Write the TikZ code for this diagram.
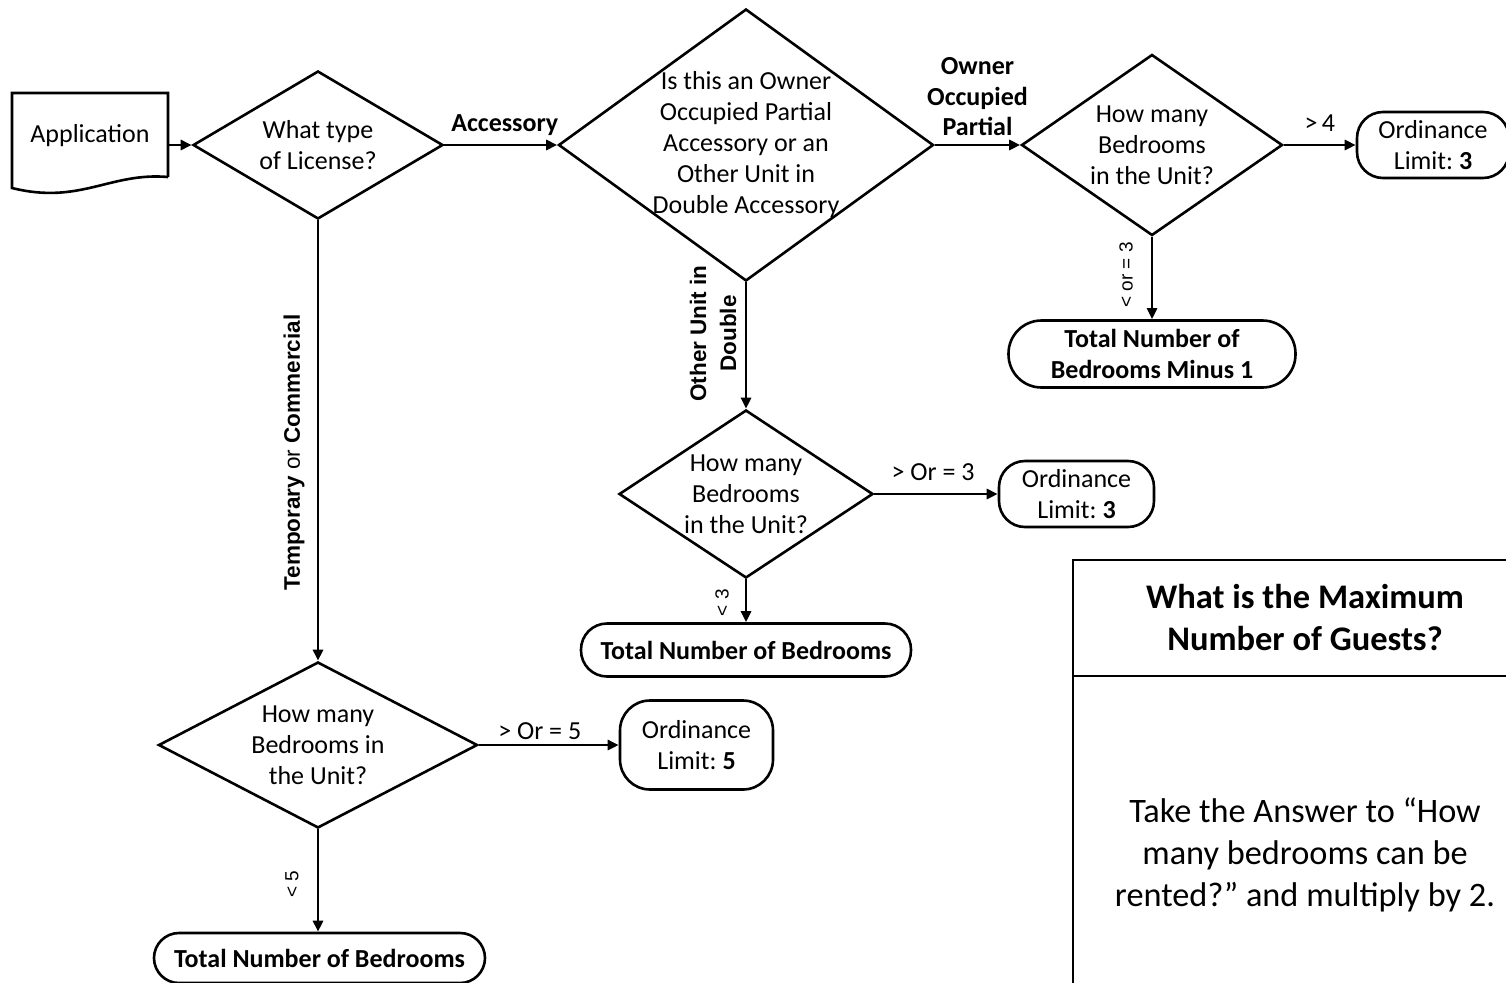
\documentclass[tikz,border=0pt]{standalone}
\usepackage{fontspec}
\setmainfont{Carlito}
\newfontfamily\arialf{Liberation Sans}
\usetikzlibrary{arrows.meta,shapes.geometric}
\frenchspacing
\tikzset{
 ln/.style={line width=2.6pt},
 arr/.style={ln, -{Triangle[length=11pt,width=10pt]}},
 dia/.style={diamond, draw, ln, inner sep=0pt},
 term/.style={draw, ln, rectangle, inner sep=0pt},
 tx/.style={font=\fontsize{26}{31}\selectfont, align=center},
 bl/.style={font=\bfseries\fontsize{26}{30.5}\selectfont, align=center},
 ar/.style={font=\arialf\fontsize{22.5}{30}\selectfont, align=center},
 ars/.style={font=\arialf\fontsize{19}{23}\selectfont},
}
\begin{document}
\begin{tikzpicture}[x=1pt,y=-1pt]
\useasboundingbox (0,0) rectangle (1506,982);
\clip (0,0) rectangle (1506,982);
% Application (document shape)
\node[minimum width=156pt, minimum height=104pt, inner sep=0pt,
      label={[tx,yshift=9pt]center:Application}] (app) at (90,145) {};
\draw[ln] (168,177) -- (168,93) -- (12,93) -- (12,188)
  .. controls (80,205) and (110,172) .. (168,177);
% diamonds
\node[dia, minimum width=250pt, minimum height=148pt,
      label={[tx]center:What type\\of License?}] (d1) at (318,145) {};
\node[dia, minimum width=375pt, minimum height=272pt,
      label={[tx]center:Is this an Owner\\Occupied Partial\\Accessory or an\\Other Unit in\\Double Accessory}] (d2) at (746,145) {};
\node[dia, minimum width=261pt, minimum height=181pt,
      label={[tx]center:How many\\Bedrooms\\in the Unit?}] (d3) at (1152,145) {};
\node[dia, minimum width=254pt, minimum height=168pt,
      label={[tx]center:How many\\Bedrooms\\in the Unit?}] (d4) at (746,494) {};
\node[dia, minimum width=319pt, minimum height=166pt,
      label={[tx]center:How many\\Bedrooms in\\the Unit?}] (d5) at (318,745) {};
% terminals
\node[term, tx, minimum width=152pt, minimum height=66pt, rounded corners=26pt] (o1) at (1433,145) {Ordinance\\Limit: \textbf{3}};
\node[term, tx, minimum width=155pt, minimum height=66pt, rounded corners=26pt] (o2) at (1076.5,494) {Ordinance\\Limit: \textbf{3}};
\node[term, tx, minimum width=153pt, minimum height=89pt, rounded corners=30pt] (o3) at (696.5,745) {Ordinance\\Limit: \textbf{5}};
\node[term, bl, minimum width=287pt, minimum height=67pt, rounded corners=33pt] (t1) at (1152,354) {Total Number of\\Bedrooms Minus 1};
\node[term, bl, minimum width=330pt, minimum height=53pt, rounded corners=26pt] (t2) at (746,650) {Total Number of Bedrooms};
\node[term, bl, minimum width=331pt, minimum height=50pt, rounded corners=25pt] (t3) at (319.5,958) {Total Number of Bedrooms};
% connectors
\draw[arr] (app.east) -- (d1.west);
\draw[arr] (d1.east) -- node[bl, xshift=4pt, yshift=20pt] {Accessory} (d2.west);
\draw[arr] (d2.east) -- node[bl, yshift=48pt] {Owner\\Occupied\\Partial} (d3.west);
\draw[arr] (d3.east) -- node[tx, yshift=22pt] {>\,4} (o1.west);
\draw[arr] (d3.south) -- node[ars, xshift=-26pt, yshift=3pt, rotate=90] {< or = 3} (t1.north);
\draw[arr] (d2.south) -- node[ar, font=\arialf\bfseries\fontsize{22.5}{30}\selectfont, xshift=-33pt, yshift=12pt, rotate=90] {Other Unit in\\Double} (d4.north);
\draw[arr] (d4.east) -- node[tx, xshift=-3pt, yshift=22pt] {> Or = 3} (o2.west);
\draw[arr] (d4.south) -- node[ars, xshift=-24pt, yshift=-2pt, rotate=90] {< 3} (t2.north);
\draw[arr] (d1.south) -- node[ar, xshift=-24pt, yshift=-12pt, rotate=90] {\textbf{Temporary} or \textbf{Commercial}} (d5.north);
\draw[arr] (d5.east) -- node[tx, xshift=-9pt, yshift=14pt] {> Or = 5} (o3.west);
\draw[arr] (d5.south) -- node[ars, xshift=-26pt, yshift=-4pt, rotate=90] {< 5} (d5.south |- t3.north);
% info box
\draw[ln] (1530,560) -- (1073,560) -- (1073,1010);
\draw[ln] (1073,676) -- (1530,676);
\node[font=\bfseries\fontsize{34.5}{42}\selectfont, align=center] (ttl) at (1305,618) {What is the Maximum\\Number of Guests?};
\node[font=\fontsize{34.3}{42}\selectfont, align=center] (bdy) at (1305,855) {Take the Answer to “How\\many bedrooms can be\\rented?” and multiply by 2.};
\end{tikzpicture}
\end{document}
